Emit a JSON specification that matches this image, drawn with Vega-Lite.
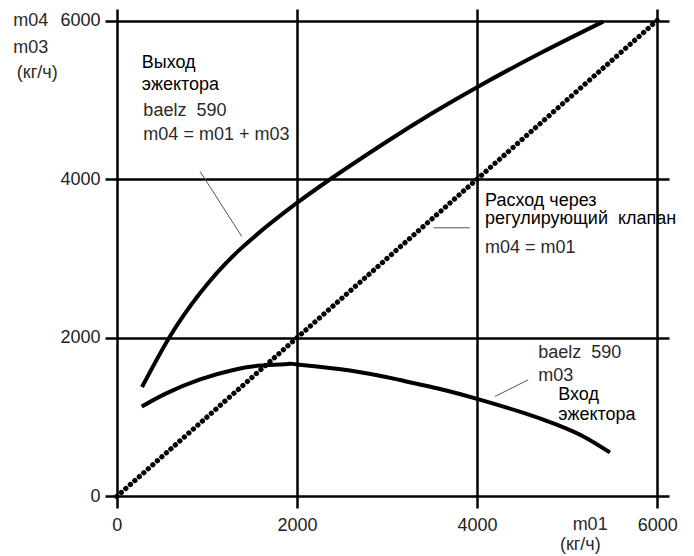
{
  "$schema": "https://vega.github.io/schema/vega-lite/v6.json",
  "width": 564,
  "height": 499,
  "autosize": {"type": "none"},
  "padding": {"left": 105, "top": 9, "right": 25, "bottom": 48},
  "background": "white",
  "config": {"view": {"stroke": null}, "font": "Liberation Sans"},
  "datasets": {
    "curves": [
      {"series": "m04", "m01": 280, "val": 1380},
      {"series": "m04", "m01": 590, "val": 2017},
      {"series": "m04", "m01": 925, "val": 2564},
      {"series": "m04", "m01": 1368, "val": 3115},
      {"series": "m04", "m01": 2000, "val": 3700},
      {"series": "m04", "m01": 2500, "val": 4100},
      {"series": "m04", "m01": 3000, "val": 4475},
      {"series": "m04", "m01": 3500, "val": 4830},
      {"series": "m04", "m01": 4000, "val": 5160},
      {"series": "m04", "m01": 4700, "val": 5587},
      {"series": "m04", "m01": 5400, "val": 5986},
      {"series": "m03", "m01": 277, "val": 1134},
      {"series": "m03", "m01": 555, "val": 1303},
      {"series": "m03", "m01": 925, "val": 1477},
      {"series": "m03", "m01": 1294, "val": 1595},
      {"series": "m03", "m01": 1600, "val": 1650},
      {"series": "m03", "m01": 1900, "val": 1670},
      {"series": "m03", "m01": 2000, "val": 1665},
      {"series": "m03", "m01": 2589, "val": 1588},
      {"series": "m03", "m01": 3145, "val": 1468},
      {"series": "m03", "m01": 3600, "val": 1352},
      {"series": "m03", "m01": 4000, "val": 1231},
      {"series": "m03", "m01": 4500, "val": 1060},
      {"series": "m03", "m01": 4884, "val": 905},
      {"series": "m03", "m01": 5200, "val": 745},
      {"series": "m03", "m01": 5475, "val": 555}
    ],
    "valve": [
      {"m01": 0, "val": 0},
      {"m01": 6000, "val": 6000}
    ],
    "leaders": [
      {"x1": 925, "y1": 4097, "x2": 1387, "y2": 3278},
      {"x1": 3515, "y1": 3387, "x2": 3919, "y2": 3387},
      {"x1": 4199, "y1": 1261, "x2": 4568, "y2": 1471}
    ],
    "textRu": [
      {"x": 277, "y": 5400, "t": "Выход"},
      {"x": 277, "y": 5125, "t": "эжектора"},
      {"x": 4088, "y": 3656, "t": "Расход через"},
      {"x": 4088, "y": 3434, "t": "регулирующий\u00a0 клапан"},
      {"x": 4901, "y": 1219, "t": "Вход"},
      {"x": 4901, "y": 958, "t": "эжектора"}
    ],
    "textLat": [
      {"x": 295, "y": 4790, "t": "baelz\u00a0 590"},
      {"x": 295, "y": 4496, "t": "m04 = m01 + m03"},
      {"x": 4088, "y": 3068, "t": "m04 = m01"},
      {"x": 4680, "y": 1745, "t": "baelz\u00a0 590"},
      {"x": 4680, "y": 1450, "t": "m03"},
      {"x": -1151, "y": 5925, "t": "m04"},
      {"x": -1151, "y": 5589, "t": "m03"},
      {"x": -1110, "y": 5274, "t": "(кг/ч)"},
      {"x": 5061, "y": -420, "t": "m01"},
      {"x": 4920, "y": -672, "t": "(кг/ч)"}
    ]
  },
  "layer": [
    {
      "data": {"name": "curves"},
      "mark": {"type": "line", "color": "#000", "strokeWidth": 4, "interpolate": "natural", "strokeCap": "butt"},
      "encoding": {
        "x": {
          "field": "m01", "type": "quantitative",
          "scale": {"domain": [-131, 6131], "nice": false, "zero": false},
          "axis": {
            "values": [0, 2000, 4000, 6000], "format": "d", "grid": true, "gridColor": "#000", "gridWidth": 2.5, "gridOpacity": 1,
            "ticks": false, "domain": false, "labelFontSize": 18, "labelPadding": 8, "labelColor": "#222",
            "labelFlush": false, "title": null, "labelFont": "Liberation Sans"
          }
        },
        "y": {
          "field": "val", "type": "quantitative",
          "scale": {"domain": [-145, 6145], "nice": false, "zero": false},
          "axis": {
            "values": [0, 2000, 4000, 6000], "format": "d", "grid": true, "gridColor": "#000", "gridWidth": 2.5, "gridOpacity": 1,
            "ticks": false, "domain": false, "labelFontSize": 18, "labelPadding": 5, "labelColor": "#222",
            "labelFlush": false, "title": null, "labelFont": "Liberation Sans"
          }
        },
        "detail": {"field": "series"}
      }
    },
    {
      "data": {"name": "valve"},
      "mark": {"type": "line", "color": "#000", "strokeWidth": 5.2, "strokeCap": "round", "strokeDash": [0.1, 5.9]},
      "encoding": {
        "x": {"field": "m01", "type": "quantitative"},
        "y": {"field": "val", "type": "quantitative"}
      }
    },
    {
      "data": {"name": "leaders"},
      "mark": {"type": "rule", "color": "#555", "strokeWidth": 1},
      "encoding": {
        "x": {"field": "x1", "type": "quantitative"},
        "y": {"field": "y1", "type": "quantitative"},
        "x2": {"field": "x2"},
        "y2": {"field": "y2"}
      }
    },
    {
      "data": {"name": "textRu"},
      "mark": {"type": "text", "align": "left", "baseline": "alphabetic", "fontSize": 18, "color": "#000", "font": "Liberation Sans"},
      "encoding": {
        "x": {"field": "x", "type": "quantitative"},
        "y": {"field": "y", "type": "quantitative"},
        "text": {"field": "t"}
      }
    },
    {
      "data": {"name": "textLat"},
      "mark": {"type": "text", "align": "left", "baseline": "alphabetic", "fontSize": 18, "color": "#2a2a2a", "font": "Liberation Sans"},
      "encoding": {
        "x": {"field": "x", "type": "quantitative"},
        "y": {"field": "y", "type": "quantitative"},
        "text": {"field": "t"}
      }
    }
  ]
}
